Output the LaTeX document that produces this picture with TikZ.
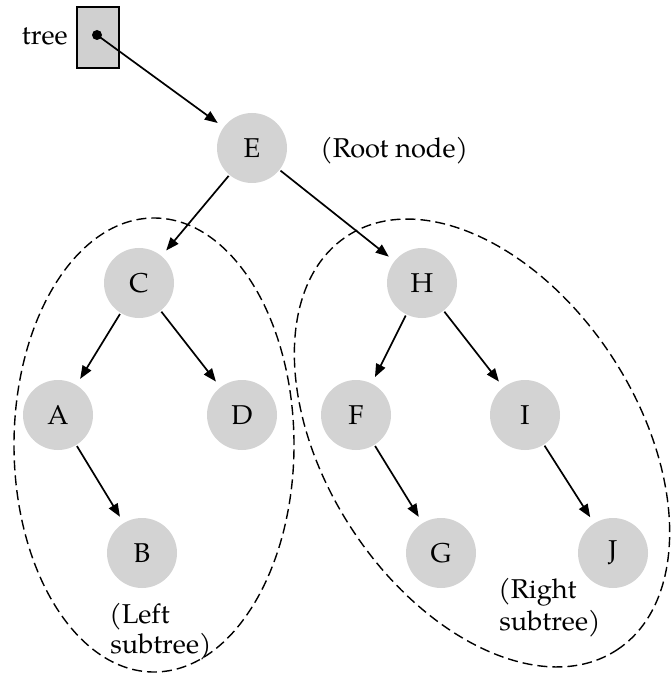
\documentclass[tikz,border=0pt]{standalone}
\usepackage{fontspec}
\setmainfont{TeX Gyre Pagella}
\usetikzlibrary{arrows.meta}
\definecolor{nodegray}{RGB}{211,211,211}
\definecolor{boxgray}{RGB}{208,208,208}
\begin{document}
\begin{tikzpicture}[x=0.5pt,y=-0.5pt,
  vert/.style={circle,fill=nodegray,minimum size=35pt,inner sep=0pt,font=\fontsize{13.6}{15}\selectfont},
  link/.style={-{Triangle[length=6.5pt,width=5pt]},line width=0.85pt,shorten >=3.5pt,shorten <=0.5pt},
  subtree/.style={dash pattern=on 5pt off 2.5pt,line width=0.7pt},
  lbl/.style={font=\fontsize{13.6}{15}\selectfont,inner sep=0pt}]
\useasboundingbox (0,0) rectangle (672,673);
% dashed groups
\draw[subtree] (154,445) ellipse [x radius=70pt, y radius=113.5pt];
\draw[subtree, rotate around={-57:(482,443)}] (482,443) ellipse [x radius=123.5pt, y radius=78pt];
% pointer box
\node[draw,fill=boxgray,minimum width=21pt,minimum height=30.5pt,inner sep=0pt,line width=0.7pt] (box) at (98,37.5) {};
\coordinate (dot) at (97,35);
\fill (dot) circle [radius=2.5pt];
\node[lbl,anchor=base east] (treelbl) at (68,45) {tree};
% nodes
\node[vert] (E) at (252,148) {E};
\node[vert] (C) at (139,283) {C};
\node[vert] (H) at (422,283) {H};
\node[vert] (A) at (58,415) {A};
\node[vert] (D) at (242,415) {D};
\node[vert] (F) at (356,415) {F};
\node[vert] (I) at (525,415) {I};
\node[vert] (B) at (142,553) {B};
\node[vert] (G) at (441,553) {G};
\node[vert] (J) at (613,553) {J};
% labels
\node[lbl,anchor=base west] (root) at (320,158) {(Root node)};
\node[lbl,anchor=base west] (left1) at (109,623) {(Left};
\node[lbl,anchor=base west] (left2) at (110,653) {subtree)};
\node[lbl,anchor=base west] (right1) at (498,598) {(Right};
\node[lbl,anchor=base west] (right2) at (499,630) {subtree)};
% edges
\draw[link,shorten <=0pt] (dot) -- (E);
\draw[link] (E) -- (C);
\draw[link] (E) -- (H);
\draw[link] (C) -- (A);
\draw[link] (C) -- (D);
\draw[link] (A) -- (B);
\draw[link] (H) -- (F);
\draw[link] (H) -- (I);
\draw[link] (F) -- (G);
\draw[link] (I) -- (J);
\end{tikzpicture}
\end{document}
